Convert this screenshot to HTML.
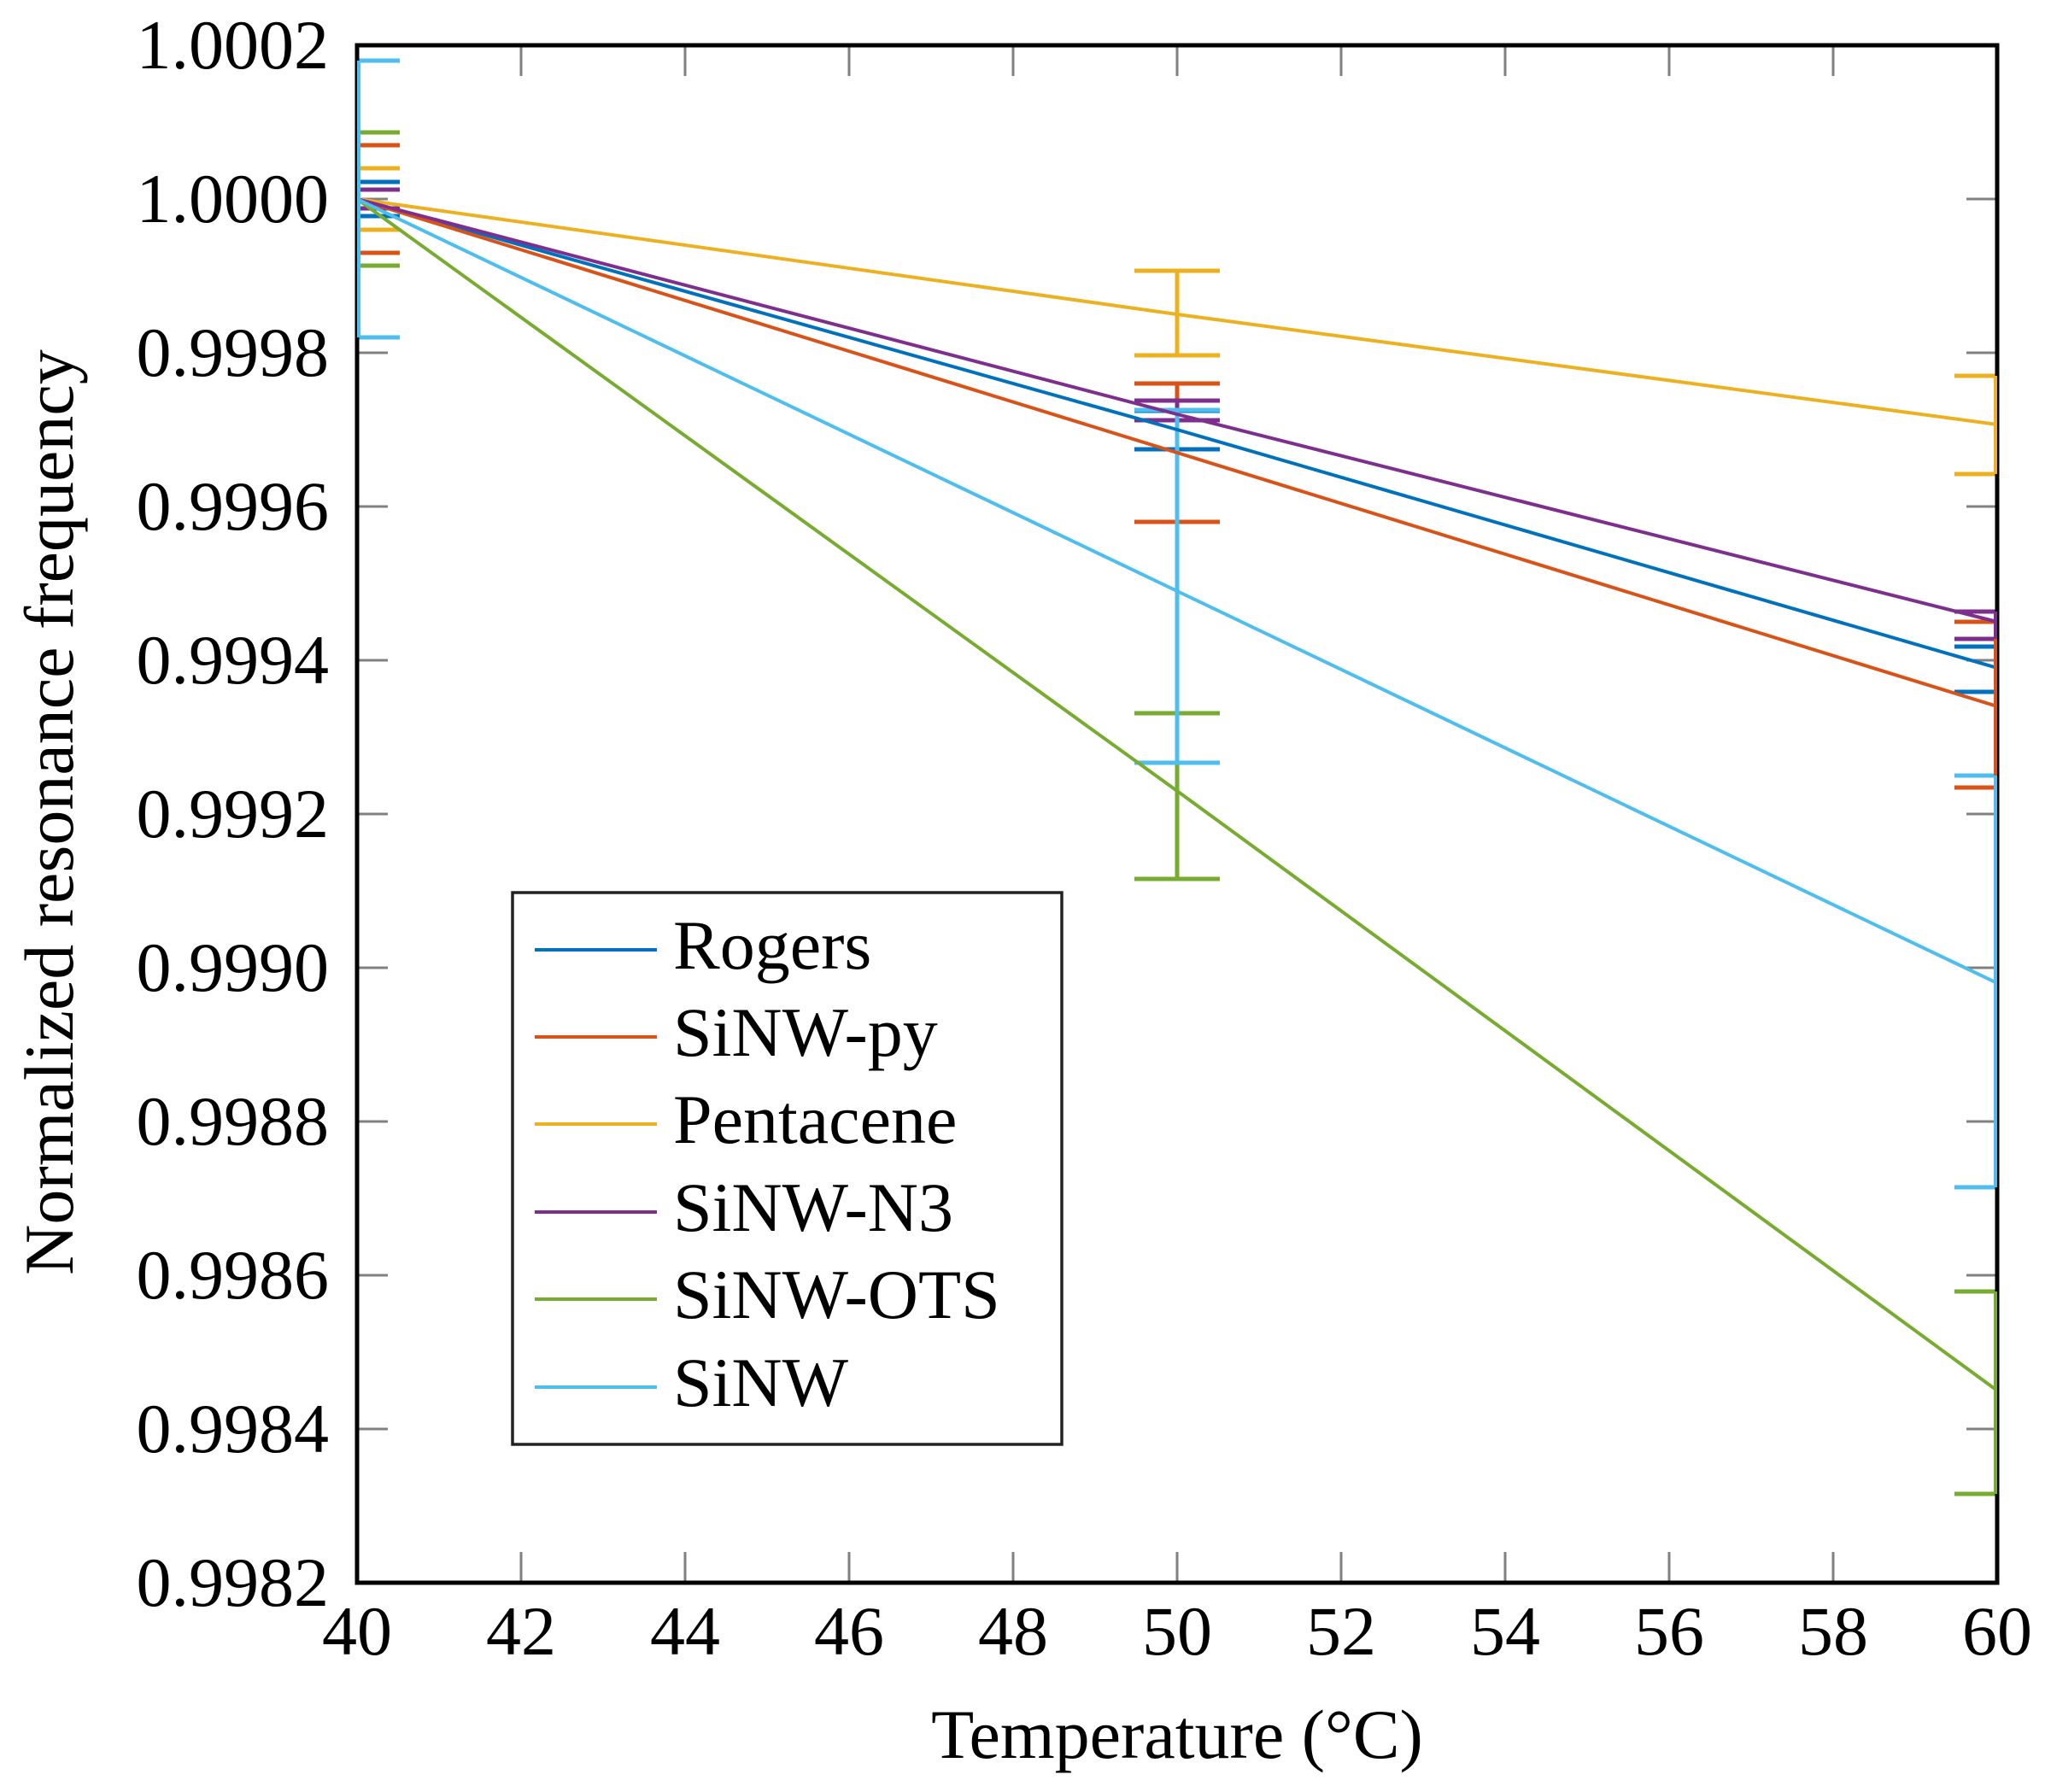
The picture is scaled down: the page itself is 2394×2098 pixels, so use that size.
<!DOCTYPE html>
<html><head><meta charset="utf-8"><style>html,body{margin:0;padding:0;background:#fff}svg{display:block}</style></head>
<body>
<svg width="2394" height="2098" xmlns="http://www.w3.org/2000/svg" font-family="Liberation Serif, serif">
<defs><clipPath id="c"><rect x="418" y="53" width="1920" height="1800"/></clipPath></defs>
<rect width="2394" height="2098" fill="#fff"/>
<g stroke="#808080" stroke-width="3">
<path d="M610,1853v-36M802,1853v-36M994,1853v-36M1186,1853v-36M1378,1853v-36M1570,1853v-36M1762,1853v-36M1954,1853v-36M2146,1853v-36"/>
<path d="M610,53v36M802,53v36M994,53v36M1186,53v36M1378,53v36M1570,53v36M1762,53v36M1954,53v36M2146,53v36"/>
<path d="M418,233h36M418,413h36M418,593h36M418,773h36M418,953h36M418,1133h36M418,1313h36M418,1493h36M418,1673h36"/>
<path d="M2338,233h-36M2338,413h-36M2338,593h-36M2338,773h-36M2338,953h-36M2338,1133h-36M2338,1313h-36M2338,1493h-36M2338,1673h-36"/>
</g>
<g clip-path="url(#c)" fill="none" stroke-width="5">
<g stroke="#0072BD"><path d="M368,213h100M368,253h100M1378,481v45M1328,481h100M1328,526h100M2288,757h100M2288,810h100"/></g>
<g stroke="#D95319"><path d="M368,170h100M368,296h100M1378,449v162M1328,449h100M1328,611h100M2288,728h100M2288,922h100"/></g>
<g stroke="#EDB120"><path d="M368,197h100M368,269h100M1378,317v99M1328,317h100M1328,416h100M2288,440h100M2288,555h100"/></g>
<g stroke="#7E2F8E"><path d="M368,222h100M368,244h100M1378,469v23M1328,469h100M1328,492h100M2288,716h100M2288,748h100"/></g>
<g stroke="#77AC30"><path d="M368,155h100M368,311h100M1378,835v194M1328,835h100M1328,1029h100M2288,1512h100M2288,1749h100"/></g>
<g stroke="#4DBEEE"><path d="M368,71h100M368,395h100M1378,480v413M1328,480h100M1328,893h100M2288,908h100M2288,1390h100"/></g>
</g>
<g clip-path="url(#c)" fill="none" stroke-width="4">
<polyline stroke="#0072BD" points="418,233 1378,503 2338,782"/>
<polyline stroke="#D95319" points="418,233 1378,530 2338,827"/>
<polyline stroke="#EDB120" points="418,233 1378,368 2338,497"/>
<polyline stroke="#7E2F8E" points="418,233 1378,485 2338,728"/>
<polyline stroke="#77AC30" points="418,233 1378,926 2338,1628"/>
<polyline stroke="#4DBEEE" points="418,233 1378,692 2338,1151"/>
</g>
<rect x="418" y="53" width="1920" height="1800" fill="none" stroke="#000" stroke-width="5"/>
<g fill="none" stroke-width="4">
<path stroke="#0072BD" d="M2336,757v53"/>
<path stroke="#D95319" d="M2336,728v194"/>
<path stroke="#EDB120" d="M2336,440v115"/>
<path stroke="#7E2F8E" d="M2336,716v32"/>
<path stroke="#77AC30" d="M2336,1512v237"/>
<path stroke="#4DBEEE" d="M2336,908v482"/>
<path stroke="#4DBEEE" d="M420,71v324"/>
</g>
<g font-size="82" text-anchor="end">
<text x="385" y="80">1.0002</text><text x="385" y="260">1.0000</text><text x="385" y="440">0.9998</text><text x="385" y="620">0.9996</text><text x="385" y="800">0.9994</text><text x="385" y="980">0.9992</text><text x="385" y="1160">0.9990</text><text x="385" y="1340">0.9988</text><text x="385" y="1520">0.9986</text><text x="385" y="1700">0.9984</text><text x="385" y="1880">0.9982</text>
</g>
<g font-size="82" text-anchor="middle">
<text x="418" y="1937">40</text><text x="610" y="1937">42</text><text x="802" y="1937">44</text><text x="994" y="1937">46</text><text x="1186" y="1937">48</text><text x="1378" y="1937">50</text><text x="1570" y="1937">52</text><text x="1762" y="1937">54</text><text x="1954" y="1937">56</text><text x="2146" y="1937">58</text><text x="2338" y="1937">60</text>
<text x="1378" y="2058">Temperature (°C)</text>
<text transform="translate(85,951) rotate(-90)">Normalized resonance frequency</text>
</g>
<rect x="600" y="1045" width="643" height="646" fill="#fff" stroke="#222" stroke-width="3.5"/>
<g stroke-width="4">
<path d="M626,1112h143" stroke="#0072BD"/><path d="M626,1214h143" stroke="#D95319"/><path d="M626,1316h143" stroke="#EDB120"/><path d="M626,1419h143" stroke="#7E2F8E"/><path d="M626,1521h143" stroke="#77AC30"/><path d="M626,1624h143" stroke="#4DBEEE"/>
</g>
<g font-size="82">
<text x="788" y="1134">Rogers</text><text x="788" y="1236">SiNW-py</text><text x="788" y="1338">Pentacene</text><text x="788" y="1441">SiNW-N3</text><text x="788" y="1543">SiNW-OTS</text><text x="788" y="1646">SiNW</text>
</g>
</svg>
</body></html>
